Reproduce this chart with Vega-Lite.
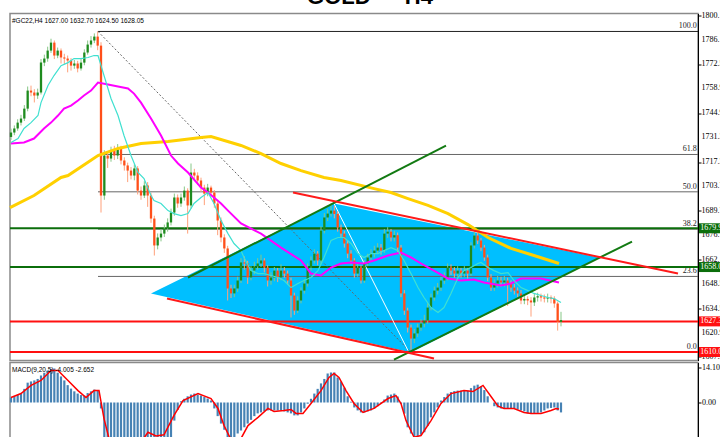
{
"$schema": "https://vega.github.io/schema/vega-lite/v6.json",
"padding": {"left": 3, "top": -14.5, "right": 0, "bottom": 0},
"background": "white",
"title": {"text": "GOLD — H4", "fontSize": 22, "font": "Liberation Sans", "fontWeight": "bold", "color": "#000", "anchor": "middle", "offset": 2},
"config": {"view": {"stroke": "#8a8a8a", "strokeWidth": 1.5}, "axis": {"grid": false, "labelOverlap": false, "labelBound": false}},
"spacing": 2,
"bounds": "flush",
"datasets": {
"bars": [
{"t":0,"o":1731.5,"h":1736.2,"l":1729.8,"c":1734.0,"m":2.0},
{"t":1,"o":1734.0,"h":1738.0,"l":1732.5,"c":1736.3,"m":2.5},
{"t":2,"o":1736.3,"h":1741.5,"l":1735.0,"c":1739.6,"m":3.0},
{"t":3,"o":1739.6,"h":1744.0,"l":1738.0,"c":1741.9,"m":3.6},
{"t":4,"o":1741.9,"h":1749.5,"l":1740.5,"c":1747.5,"m":5.5},
{"t":5,"o":1747.5,"h":1760.0,"l":1746.0,"c":1757.7,"m":8.0},
{"t":6,"o":1757.7,"h":1760.5,"l":1754.5,"c":1756.6,"m":8.5},
{"t":7,"o":1756.6,"h":1758.5,"l":1751.0,"c":1754.9,"m":8.9},
{"t":8,"o":1754.9,"h":1758.8,"l":1753.0,"c":1756.6,"m":9.5},
{"t":9,"o":1756.6,"h":1775.5,"l":1755.5,"c":1773.5,"m":10.9},
{"t":10,"o":1773.5,"h":1778.0,"l":1771.5,"c":1775.8,"m":12.0},
{"t":11,"o":1775.8,"h":1782.5,"l":1774.0,"c":1780.3,"m":12.9},
{"t":12,"o":1780.3,"h":1787.0,"l":1779.0,"c":1784.8,"m":13.5},
{"t":13,"o":1784.8,"h":1786.0,"l":1775.5,"c":1777.5,"m":13.7},
{"t":14,"o":1777.5,"h":1782.0,"l":1776.0,"c":1780.3,"m":12.0},
{"t":15,"o":1780.3,"h":1781.5,"l":1773.0,"c":1776.4,"m":10.5},
{"t":16,"o":1776.4,"h":1778.5,"l":1772.5,"c":1775.8,"m":8.9},
{"t":17,"o":1775.8,"h":1777.5,"l":1768.0,"c":1774.7,"m":7.0},
{"t":18,"o":1774.7,"h":1776.0,"l":1769.0,"c":1771.8,"m":5.6},
{"t":19,"o":1771.8,"h":1775.0,"l":1770.0,"c":1773.0,"m":4.5},
{"t":20,"o":1773.0,"h":1774.5,"l":1768.0,"c":1770.2,"m":3.6},
{"t":21,"o":1770.2,"h":1775.5,"l":1769.0,"c":1773.5,"m":3.0},
{"t":22,"o":1773.5,"h":1781.0,"l":1772.0,"c":1779.2,"m":2.8},
{"t":23,"o":1779.2,"h":1786.0,"l":1778.0,"c":1783.7,"m":3.8},
{"t":24,"o":1783.7,"h":1788.5,"l":1782.0,"c":1786.0,"m":4.5},
{"t":25,"o":1786.0,"h":1790.0,"l":1784.5,"c":1788.2,"m":5.2},
{"t":26,"o":1788.2,"h":1791.1,"l":1780.5,"c":1783.1,"m":5.0},
{"t":27,"o":1783.1,"h":1785.0,"l":1688.8,"c":1698.4,"m":-2.4},
{"t":28,"o":1698.4,"h":1724.0,"l":1696.0,"c":1721.0,"m":-15},
{"t":29,"o":1721.0,"h":1723.5,"l":1714.0,"c":1719.3,"m":-19},
{"t":30,"o":1719.3,"h":1726.0,"l":1717.5,"c":1723.8,"m":-21},
{"t":31,"o":1723.8,"h":1726.5,"l":1718.5,"c":1721.0,"m":-22},
{"t":32,"o":1721.0,"h":1727.5,"l":1719.0,"c":1725.0,"m":-23},
{"t":33,"o":1725.0,"h":1726.5,"l":1716.0,"c":1718.2,"m":-23},
{"t":34,"o":1718.2,"h":1720.0,"l":1712.5,"c":1715.4,"m":-22},
{"t":35,"o":1715.4,"h":1717.0,"l":1706.0,"c":1712.5,"m":-22},
{"t":36,"o":1712.5,"h":1714.5,"l":1707.5,"c":1709.7,"m":-21},
{"t":37,"o":1709.7,"h":1716.0,"l":1707.0,"c":1713.7,"m":-20},
{"t":38,"o":1713.7,"h":1715.0,"l":1699.0,"c":1701.2,"m":-20},
{"t":39,"o":1701.2,"h":1703.5,"l":1696.0,"c":1698.4,"m":-20},
{"t":40,"o":1698.4,"h":1706.5,"l":1697.0,"c":1704.1,"m":-19},
{"t":41,"o":1704.1,"h":1706.0,"l":1692.0,"c":1698.4,"m":-19},
{"t":42,"o":1698.4,"h":1700.0,"l":1683.0,"c":1685.4,"m":-20},
{"t":43,"o":1685.4,"h":1687.0,"l":1664.5,"c":1670.2,"m":-22},
{"t":44,"o":1670.2,"h":1677.0,"l":1668.0,"c":1674.7,"m":-22},
{"t":45,"o":1674.7,"h":1679.5,"l":1672.5,"c":1676.9,"m":-21},
{"t":46,"o":1676.9,"h":1682.0,"l":1675.0,"c":1679.8,"m":-20},
{"t":47,"o":1679.8,"h":1685.5,"l":1678.0,"c":1683.2,"m":-18},
{"t":48,"o":1683.2,"h":1691.0,"l":1681.5,"c":1688.8,"m":-15},
{"t":49,"o":1688.8,"h":1699.5,"l":1687.0,"c":1697.3,"m":-7.3},
{"t":50,"o":1697.3,"h":1699.0,"l":1691.5,"c":1693.9,"m":-3},
{"t":51,"o":1693.9,"h":1699.5,"l":1692.0,"c":1697.3,"m":0.5},
{"t":52,"o":1697.3,"h":1703.5,"l":1695.5,"c":1701.2,"m":1.5},
{"t":53,"o":1701.2,"h":1702.5,"l":1676.9,"c":1692.8,"m":2.5},
{"t":54,"o":1692.8,"h":1716.5,"l":1691.0,"c":1711.4,"m":3.2},
{"t":55,"o":1711.4,"h":1713.5,"l":1707.0,"c":1709.7,"m":3.6},
{"t":56,"o":1709.7,"h":1711.5,"l":1704.5,"c":1706.9,"m":3.2},
{"t":57,"o":1706.9,"h":1708.5,"l":1700.5,"c":1702.9,"m":2.8},
{"t":58,"o":1702.9,"h":1704.5,"l":1693.0,"c":1699.5,"m":2.2},
{"t":59,"o":1699.5,"h":1705.0,"l":1698.0,"c":1702.9,"m":1.6},
{"t":60,"o":1702.9,"h":1704.0,"l":1698.0,"c":1700.1,"m":0.8},
{"t":61,"o":1700.1,"h":1701.5,"l":1691.5,"c":1693.9,"m":-2.4},
{"t":62,"o":1693.9,"h":1695.0,"l":1676.0,"c":1684.3,"m":-5.5},
{"t":63,"o":1684.3,"h":1686.0,"l":1672.0,"c":1674.7,"m":-8.5},
{"t":64,"o":1674.7,"h":1676.5,"l":1666.0,"c":1668.5,"m":-11},
{"t":65,"o":1668.5,"h":1670.0,"l":1639.1,"c":1645.9,"m":-14.5},
{"t":66,"o":1645.9,"h":1648.0,"l":1640.5,"c":1643.1,"m":-16},
{"t":67,"o":1643.1,"h":1648.0,"l":1641.0,"c":1645.9,"m":-15},
{"t":68,"o":1645.9,"h":1652.5,"l":1644.0,"c":1650.4,"m":-12.5},
{"t":69,"o":1650.4,"h":1663.0,"l":1649.0,"c":1660.6,"m":-11.3},
{"t":70,"o":1660.6,"h":1664.0,"l":1656.5,"c":1660.0,"m":-10},
{"t":71,"o":1660.0,"h":1661.5,"l":1648.5,"c":1652.1,"m":-8.5},
{"t":72,"o":1652.1,"h":1658.5,"l":1650.5,"c":1656.0,"m":-7},
{"t":73,"o":1656.0,"h":1661.0,"l":1654.0,"c":1658.3,"m":-5.5},
{"t":74,"o":1658.3,"h":1663.0,"l":1656.5,"c":1660.0,"m":-4.4},
{"t":75,"o":1660.0,"h":1665.0,"l":1658.0,"c":1661.7,"m":-4},
{"t":76,"o":1661.7,"h":1663.0,"l":1655.0,"c":1657.7,"m":-3.5},
{"t":77,"o":1657.7,"h":1659.0,"l":1647.0,"c":1650.4,"m":-3.2},
{"t":78,"o":1650.4,"h":1655.0,"l":1648.0,"c":1652.1,"m":-3.2},
{"t":79,"o":1652.1,"h":1658.0,"l":1650.0,"c":1656.0,"m":-3.2},
{"t":80,"o":1656.0,"h":1657.5,"l":1649.5,"c":1652.1,"m":-3.2},
{"t":81,"o":1652.1,"h":1659.5,"l":1650.5,"c":1656.0,"m":-3.2},
{"t":82,"o":1656.0,"h":1658.0,"l":1652.0,"c":1654.3,"m":-3.6},
{"t":83,"o":1654.3,"h":1656.0,"l":1648.0,"c":1650.4,"m":-4},
{"t":84,"o":1650.4,"h":1652.0,"l":1629.5,"c":1641.9,"m":-4.4},
{"t":85,"o":1641.9,"h":1643.5,"l":1631.0,"c":1633.4,"m":-5.2},
{"t":86,"o":1633.4,"h":1641.5,"l":1632.0,"c":1639.1,"m":-5.2},
{"t":87,"o":1639.1,"h":1646.5,"l":1637.5,"c":1644.7,"m":-4},
{"t":88,"o":1644.7,"h":1651.0,"l":1643.0,"c":1648.7,"m":-2.4},
{"t":89,"o":1648.7,"h":1660.0,"l":1647.0,"c":1657.7,"m":-0.5},
{"t":90,"o":1657.7,"h":1664.0,"l":1656.0,"c":1661.7,"m":1.5},
{"t":91,"o":1661.7,"h":1668.0,"l":1660.0,"c":1665.6,"m":3.6},
{"t":92,"o":1665.6,"h":1667.0,"l":1659.0,"c":1661.7,"m":5.5},
{"t":93,"o":1661.7,"h":1681.0,"l":1660.0,"c":1678.6,"m":7.7},
{"t":94,"o":1678.6,"h":1688.5,"l":1677.0,"c":1686.0,"m":9.5},
{"t":95,"o":1686.0,"h":1691.0,"l":1684.0,"c":1688.2,"m":11.7},
{"t":96,"o":1688.2,"h":1693.9,"l":1686.5,"c":1689.9,"m":12.1},
{"t":97,"o":1689.9,"h":1692.5,"l":1685.5,"c":1688.0,"m":12.1},
{"t":98,"o":1688.0,"h":1689.5,"l":1678.0,"c":1680.3,"m":10.1},
{"t":99,"o":1680.3,"h":1682.0,"l":1674.5,"c":1676.9,"m":8.5},
{"t":100,"o":1676.9,"h":1678.5,"l":1669.0,"c":1671.3,"m":6.0},
{"t":101,"o":1671.3,"h":1673.0,"l":1663.0,"c":1665.6,"m":2.5},
{"t":102,"o":1665.6,"h":1667.5,"l":1659.5,"c":1661.7,"m":0.3},
{"t":103,"o":1661.7,"h":1663.0,"l":1652.0,"c":1654.3,"m":-2.0},
{"t":104,"o":1654.3,"h":1660.0,"l":1652.5,"c":1657.7,"m":-3.2},
{"t":105,"o":1657.7,"h":1659.0,"l":1648.7,"c":1650.4,"m":-4.0},
{"t":106,"o":1650.4,"h":1662.0,"l":1649.0,"c":1660.0,"m":-4.0},
{"t":107,"o":1660.0,"h":1665.5,"l":1658.5,"c":1663.4,"m":-3.6},
{"t":108,"o":1663.4,"h":1668.0,"l":1661.5,"c":1665.6,"m":-3.2},
{"t":109,"o":1665.6,"h":1670.0,"l":1663.5,"c":1667.3,"m":-2.4},
{"t":110,"o":1667.3,"h":1671.5,"l":1665.5,"c":1669.0,"m":-1.5},
{"t":111,"o":1669.0,"h":1671.0,"l":1665.0,"c":1667.3,"m":-0.4},
{"t":112,"o":1667.3,"h":1679.5,"l":1666.0,"c":1676.9,"m":1.2},
{"t":113,"o":1676.9,"h":1680.5,"l":1674.5,"c":1678.0,"m":2.8},
{"t":114,"o":1678.0,"h":1679.5,"l":1672.5,"c":1674.7,"m":3.2},
{"t":115,"o":1674.7,"h":1678.5,"l":1672.5,"c":1676.0,"m":3.6},
{"t":116,"o":1676.0,"h":1677.5,"l":1666.5,"c":1669.0,"m":2.4},
{"t":117,"o":1669.0,"h":1670.5,"l":1641.0,"c":1643.1,"m":-0.5},
{"t":118,"o":1643.1,"h":1645.0,"l":1631.0,"c":1633.4,"m":-4.5},
{"t":119,"o":1633.4,"h":1635.0,"l":1621.0,"c":1623.8,"m":-10},
{"t":120,"o":1623.8,"h":1625.5,"l":1609.7,"c":1617.6,"m":-12.5},
{"t":121,"o":1617.6,"h":1623.0,"l":1615.0,"c":1620.5,"m":-14},
{"t":122,"o":1620.5,"h":1626.0,"l":1618.5,"c":1623.8,"m":-13.5},
{"t":123,"o":1623.8,"h":1628.5,"l":1622.0,"c":1626.1,"m":-13},
{"t":124,"o":1626.1,"h":1631.0,"l":1624.0,"c":1627.8,"m":-12},
{"t":125,"o":1627.8,"h":1637.5,"l":1626.0,"c":1635.1,"m":-9.5},
{"t":126,"o":1635.1,"h":1643.0,"l":1633.5,"c":1640.8,"m":-6},
{"t":127,"o":1640.8,"h":1647.0,"l":1639.0,"c":1644.7,"m":-4},
{"t":128,"o":1644.7,"h":1649.0,"l":1642.5,"c":1646.4,"m":-2},
{"t":129,"o":1646.4,"h":1652.5,"l":1644.5,"c":1650.4,"m":0.8},
{"t":130,"o":1650.4,"h":1655.0,"l":1648.5,"c":1652.1,"m":2.2},
{"t":131,"o":1652.1,"h":1660.0,"l":1650.5,"c":1657.7,"m":3.6},
{"t":132,"o":1657.7,"h":1659.5,"l":1653.5,"c":1656.0,"m":4.2},
{"t":133,"o":1656.0,"h":1658.0,"l":1652.0,"c":1654.3,"m":4.6},
{"t":134,"o":1654.3,"h":1658.5,"l":1652.5,"c":1656.0,"m":4.8},
{"t":135,"o":1656.0,"h":1657.5,"l":1652.0,"c":1654.3,"m":4.8},
{"t":136,"o":1654.3,"h":1658.5,"l":1652.5,"c":1656.0,"m":4.8},
{"t":137,"o":1656.0,"h":1657.5,"l":1651.5,"c":1654.3,"m":4.8},
{"t":138,"o":1654.3,"h":1672.0,"l":1653.0,"c":1670.2,"m":5.8},
{"t":139,"o":1670.2,"h":1678.6,"l":1668.5,"c":1675.8,"m":6.8},
{"t":140,"o":1675.8,"h":1677.5,"l":1671.0,"c":1673.0,"m":7.2},
{"t":141,"o":1673.0,"h":1674.5,"l":1667.0,"c":1669.0,"m":6.5},
{"t":142,"o":1669.0,"h":1670.5,"l":1661.5,"c":1663.4,"m":5.0},
{"t":143,"o":1663.4,"h":1665.0,"l":1650.0,"c":1652.1,"m":2.5},
{"t":144,"o":1652.1,"h":1654.0,"l":1644.5,"c":1646.4,"m":0},
{"t":145,"o":1646.4,"h":1651.0,"l":1644.5,"c":1648.7,"m":-1.5},
{"t":146,"o":1648.7,"h":1653.0,"l":1646.5,"c":1650.4,"m":-2},
{"t":147,"o":1650.4,"h":1652.5,"l":1647.0,"c":1649.3,"m":-2.4},
{"t":148,"o":1649.3,"h":1653.0,"l":1647.0,"c":1650.4,"m":-2.4},
{"t":149,"o":1650.4,"h":1652.0,"l":1636.0,"c":1648.7,"m":-2.4},
{"t":150,"o":1648.7,"h":1650.5,"l":1644.0,"c":1646.4,"m":-2.4},
{"t":151,"o":1646.4,"h":1648.5,"l":1642.5,"c":1644.7,"m":-2.4},
{"t":152,"o":1644.7,"h":1646.5,"l":1641.0,"c":1643.1,"m":-2.8},
{"t":153,"o":1643.1,"h":1645.0,"l":1637.0,"c":1639.1,"m":-3.2},
{"t":154,"o":1639.1,"h":1642.0,"l":1637.0,"c":1640.0,"m":-3.6},
{"t":155,"o":1640.0,"h":1641.5,"l":1636.5,"c":1639.1,"m":-4.4},
{"t":156,"o":1639.1,"h":1641.0,"l":1630.0,"c":1638.0,"m":-4.4},
{"t":157,"o":1638.0,"h":1643.0,"l":1636.0,"c":1640.8,"m":-4.4},
{"t":158,"o":1640.8,"h":1643.5,"l":1638.5,"c":1641.5,"m":-4.2},
{"t":159,"o":1641.5,"h":1643.0,"l":1638.5,"c":1640.8,"m":-4.0},
{"t":160,"o":1640.8,"h":1642.5,"l":1638.0,"c":1640.2,"m":-3.2},
{"t":161,"o":1640.2,"h":1643.0,"l":1638.0,"c":1640.8,"m":-2.4},
{"t":162,"o":1640.8,"h":1642.0,"l":1637.5,"c":1640.2,"m":-2.2},
{"t":163,"o":1640.2,"h":1641.5,"l":1635.0,"c":1637.4,"m":-2.0},
{"t":164,"o":1637.4,"h":1638.5,"l":1622.1,"c":1627.0,"m":-3.2},
{"t":165,"o":1627.0,"h":1632.7,"l":1624.5,"c":1628.05,"m":-4.0}
],
"ma": [
{"s":"c","t":0,"v":1728.4},{"s":"c","t":2.1,"v":1730.6},{"s":"c","t":3.9,"v":1736.3},{"s":"c","t":6,"v":1739.6},{"s":"c","t":8.1,"v":1743.6},{"s":"c","t":9,"v":1750.9},{"s":"c","t":11.1,"v":1760.6},{"s":"c","t":12.9,"v":1766.2},{"s":"c","t":15,"v":1771.8},{"s":"c","t":17.1,"v":1773.5},{"s":"c","t":18.9,"v":1775.8},{"s":"c","t":21,"v":1775.8},{"s":"c","t":23.1,"v":1776.4},{"s":"c","t":24.9,"v":1777.5},{"s":"c","t":26.1,"v":1777.5},{"s":"c","t":27.9,"v":1766.2},{"s":"c","t":30,"v":1753.2},{"s":"c","t":32.1,"v":1743.6},{"s":"c","t":33.9,"v":1732.3},{"s":"c","t":36,"v":1721.0},{"s":"c","t":38.1,"v":1711.4},{"s":"c","t":39.9,"v":1708.0},{"s":"c","t":42,"v":1698.4},{"s":"c","t":42.9,"v":1695.6},{"s":"c","t":45,"v":1693.9},{"s":"c","t":47.1,"v":1689.9},{"s":"c","t":48.9,"v":1688.2},{"s":"c","t":51,"v":1687.1},{"s":"c","t":53.1,"v":1688.2},{"s":"c","t":54.9,"v":1693.9},{"s":"c","t":57,"v":1697.3},{"s":"c","t":59.1,"v":1700.1},{"s":"c","t":60.9,"v":1693.9},{"s":"c","t":63,"v":1684.3},{"s":"c","t":65.1,"v":1676.9},{"s":"c","t":66.9,"v":1671.3},{"s":"c","t":69,"v":1667.3},{"s":"c","t":69.9,"v":1663.4},{"s":"c","t":72,"v":1656.0},{"s":"c","t":74.1,"v":1654.3},{"s":"c","t":75.9,"v":1654.3},{"s":"c","t":78,"v":1653.2},{"s":"c","t":80.1,"v":1652.1},{"s":"c","t":81.9,"v":1650.4},{"s":"c","t":84,"v":1646.4},{"s":"c","t":86.1,"v":1648.7},{"s":"c","t":87.9,"v":1650.4},{"s":"c","t":90,"v":1652.1},{"s":"c","t":92.1,"v":1656.0},{"s":"c","t":93.9,"v":1663.4},{"s":"c","t":96,"v":1673.0},{"s":"c","t":98.1,"v":1674.7},{"s":"c","t":99.9,"v":1674.7},{"s":"c","t":102,"v":1671.3},{"s":"c","t":104.1,"v":1665.6},{"s":"c","t":105.9,"v":1663.4},{"s":"c","t":108,"v":1665.6},{"s":"c","t":110.1,"v":1665.6},{"s":"c","t":111.9,"v":1667.3},{"s":"c","t":114,"v":1669.0},{"s":"c","t":116.1,"v":1667.3},{"s":"c","t":117.9,"v":1661.7},{"s":"c","t":120,"v":1654.3},{"s":"c","t":122.1,"v":1646.4},{"s":"c","t":123.9,"v":1640.8},{"s":"c","t":126,"v":1635.1},{"s":"c","t":128.1,"v":1632.3},{"s":"c","t":129.9,"v":1635.1},{"s":"c","t":132,"v":1643.1},{"s":"c","t":134.1,"v":1652.1},{"s":"c","t":135.9,"v":1656.0},{"s":"c","t":138,"v":1657.7},{"s":"c","t":140.1,"v":1660.0},{"s":"c","t":141,"v":1660.6},{"s":"c","t":143.1,"v":1657.7},{"s":"c","t":144.9,"v":1656.0},{"s":"c","t":147,"v":1654.3},{"s":"c","t":149.1,"v":1654.9},{"s":"c","t":150.9,"v":1650.4},{"s":"c","t":153,"v":1646.4},{"s":"c","t":155.1,"v":1644.7},{"s":"c","t":156.9,"v":1643.1},{"s":"c","t":159,"v":1641.9},{"s":"c","t":161.1,"v":1640.8},{"s":"c","t":162.9,"v":1640.2},{"s":"c","t":165,"v":1638.0},
{"s":"m","t":0,"v":1727.8},{"s":"m","t":3.9,"v":1728.4},{"s":"m","t":6.9,"v":1730.6},{"s":"m","t":9.9,"v":1736.3},{"s":"m","t":12,"v":1739.6},{"s":"m","t":14.1,"v":1743.6},{"s":"m","t":15.9,"v":1747.5},{"s":"m","t":18,"v":1749.2},{"s":"m","t":20.1,"v":1752.1},{"s":"m","t":21.9,"v":1754.9},{"s":"m","t":24,"v":1757.7},{"s":"m","t":26.1,"v":1762.2},{"s":"m","t":29.1,"v":1761.1},{"s":"m","t":32.1,"v":1760.0},{"s":"m","t":35.1,"v":1758.9},{"s":"m","t":36.9,"v":1756.0},{"s":"m","t":39,"v":1750.9},{"s":"m","t":42,"v":1741.9},{"s":"m","t":45,"v":1732.3},{"s":"m","t":48,"v":1721.0},{"s":"m","t":50.1,"v":1716.5},{"s":"m","t":53.1,"v":1711.4},{"s":"m","t":57,"v":1702.9},{"s":"m","t":59.1,"v":1700.1},{"s":"m","t":60.9,"v":1697.3},{"s":"m","t":63,"v":1693.9},{"s":"m","t":65.1,"v":1689.9},{"s":"m","t":69,"v":1682.6},{"s":"m","t":75,"v":1676.9},{"s":"m","t":81,"v":1669.0},{"s":"m","t":87,"v":1661.7},{"s":"m","t":90,"v":1654.3},{"s":"m","t":93,"v":1653.2},{"s":"m","t":96,"v":1657.7},{"s":"m","t":99,"v":1660.0},{"s":"m","t":102,"v":1660.6},{"s":"m","t":105.9,"v":1660.0},{"s":"m","t":108.9,"v":1661.7},{"s":"m","t":113.1,"v":1664.5},{"s":"m","t":117,"v":1666.2},{"s":"m","t":120,"v":1663.4},{"s":"m","t":123,"v":1660.0},{"s":"m","t":126.9,"v":1656.0},{"s":"m","t":131.1,"v":1651.5},{"s":"m","t":135,"v":1650.4},{"s":"m","t":138.9,"v":1650.9},{"s":"m","t":141.9,"v":1649.3},{"s":"m","t":147,"v":1647.6},{"s":"m","t":150,"v":1648.7},{"s":"m","t":153,"v":1651.5},{"s":"m","t":159,"v":1651.5},{"s":"m","t":164.4,"v":1649.3},
{"s":"y","t":-0.3,"v":1691.6},{"s":"y","t":6.9,"v":1698.4},{"s":"y","t":15,"v":1708.6},{"s":"y","t":17.1,"v":1709.7},{"s":"y","t":26.1,"v":1721.0},{"s":"y","t":32.1,"v":1725.0},{"s":"y","t":39,"v":1727.8},{"s":"y","t":47.1,"v":1728.9},{"s":"y","t":57,"v":1731.2},{"s":"y","t":60,"v":1731.7},{"s":"y","t":69,"v":1726.7},{"s":"y","t":75,"v":1722.1},{"s":"y","t":81,"v":1716.5},{"s":"y","t":87,"v":1712.5},{"s":"y","t":93.9,"v":1708.6},{"s":"y","t":99,"v":1706.9},{"s":"y","t":108.9,"v":1702.3},{"s":"y","t":114,"v":1700.1},{"s":"y","t":119.1,"v":1696.7},{"s":"y","t":125.1,"v":1692.8},{"s":"y","t":131.1,"v":1688.2},{"s":"y","t":137.1,"v":1682.0},{"s":"y","t":143.1,"v":1674.7},{"s":"y","t":150,"v":1668.5},{"s":"y","t":156.9,"v":1664.5},{"s":"y","t":164.4,"v":1660.0}
],
"sig": [
{"t":0,"v":2.0},{"t":3,"v":3.6},{"t":6,"v":6.9},{"t":9,"v":8.9},{"t":12,"v":12.9},{"t":14.1,"v":12.9},{"t":17.1,"v":8.9},{"t":20.1,"v":4.8},{"t":22.5,"v":2.0},{"t":24.9,"v":4.8},{"t":26.4,"v":4.8},{"t":27.9,"v":-6.5},{"t":29.4,"v":-14.5},{"t":32.4,"v":-19},{"t":36.9,"v":-20},{"t":41.1,"v":-12},{"t":43.5,"v":-13.5},{"t":45.9,"v":-13},{"t":48.9,"v":-5.2},{"t":51.6,"v":0.8},{"t":56.1,"v":3.6},{"t":60,"v":1.6},{"t":62.1,"v":-2.4},{"t":63.9,"v":-9.3},{"t":66,"v":-15},{"t":69,"v":-14.5},{"t":71.1,"v":-9.3},{"t":74.1,"v":-6},{"t":77.1,"v":-2.4},{"t":78.9,"v":-3.6},{"t":81.9,"v":-3.2},{"t":84,"v":-2.8},{"t":85.5,"v":-4.4},{"t":87.6,"v":-4.4},{"t":90,"v":-0.4},{"t":93,"v":4.8},{"t":95.4,"v":10.1},{"t":96.9,"v":11.7},{"t":98.4,"v":10.1},{"t":100.5,"v":4.8},{"t":102.9,"v":-0.4},{"t":105.6,"v":-4},{"t":108.9,"v":-2.4},{"t":113.1,"v":1.6},{"t":115.5,"v":2.8},{"t":117,"v":-0.4},{"t":118.5,"v":-7.3},{"t":120.9,"v":-14},{"t":123,"v":-13.3},{"t":126,"v":-7.3},{"t":129,"v":-0.4},{"t":132,"v":3.6},{"t":135.9,"v":4.8},{"t":138.6,"v":4.4},{"t":141.6,"v":6.9},{"t":144,"v":2.4},{"t":146.1,"v":-1.5},{"t":147.9,"v":-2.4},{"t":150.9,"v":-2.4},{"t":153.9,"v":-4},{"t":156,"v":-4.4},{"t":159,"v":-4.4},{"t":162,"v":-3.2},{"t":163.5,"v":-2.4},{"t":164.4,"v":-2.65}
],
"ticks": [
{"v":1800.1},{"v":1786.1},{"v":1772.5},{"v":1758.9},{"v":1744.9},{"v":1731.3},{"v":1717.3},{"v":1703.7},{"v":1689.7},{"v":1676.1},{"v":1662.1},{"v":1648.5},{"v":1634.5},{"v":1620.9},{"v":1607.3}
],
"levels": [
{"p":1679.9,"k":"g","lab":"1679.90"},{"p":1658.0,"k":"g","lab":"1658.00"},{"p":1627.3,"k":"r","lab":"1627.30"},{"p":1610.0,"k":"r","lab":"1610.00"}
],
"fib": [
{"lvl":"100.0","p":1791.1,"t0":26.1},{"lvl":"61.8","p":1721.6,"t0":26.1},{"lvl":"50.0","p":1700.5,"t0":26.1},{"lvl":"38.2","p":1679.4,"t0":26.1},{"lvl":"23.6","p":1652.7,"t0":26.1},{"lvl":"0.0","p":1610.0,"t0":26.1}
],
"segs": [
{"k":"green","t1":53.1,"p1":1652.1,"t2":130.5,"p2":1726.6},
{"k":"green","t1":114.9,"p1":1605.7,"t2":186.3,"p2":1672.4},
{"k":"red","t1":84.6,"p1":1700.1,"t2":200.1,"p2":1654.3},
{"k":"red","t1":46.8,"p1":1640.2,"t2":126.9,"p2":1606.3},
{"k":"dot","t1":26.1,"p1":1791.1,"t2":120.0,"p2":1609.7},
{"k":"white","t1":96.9,"p1":1693.9,"t2":119.1,"p2":1610.8}
],
"poly": [
{"t":42.0,"hi":1643.1,"lo":1643.1},{"t":96.9,"hi":1693.9,"lo":1619.6},{"t":120.0,"hi":1685.0,"lo":1609.7},{"t":176.4,"hi":1663.4,"lo":1663.4}
]
},
"vconcat": [
{
"width": 688, "height": 347,
"layer": [
{"data": {"name": "poly"}, "mark": {"type": "area", "color": "#00bfff", "opacity": 1},
 "encoding": {"x": {"field": "t", "type": "quantitative", "scale": {"domain": [-0.3, 206.1], "nice": false, "zero": false, "padding": 0}, "axis": null},
  "y": {"field": "hi", "type": "quantitative", "scale": {"domain": [1605.2, 1801.25], "nice": false, "zero": false, "padding": 0},
   "axis": {"orient": "right", "title": null, "values": [1800.1,1786.1,1772.5,1758.9,1744.9,1731.3,1717.3,1703.7,1689.7,1676.1,1662.1,1648.5,1634.5,1620.9,1607.3], "labels": false, "tickSize": 3, "tickColor": "#000", "domainColor": "#000"}},
  "y2": {"field": "lo"}}},
{"data": {"name": "ticks"}, "mark": {"type": "text", "align": "left", "baseline": "middle", "dx": 3.5, "fontSize": 8, "font": "Liberation Serif", "color": "#000"},
 "encoding": {"x": {"datum": 206.1, "type": "quantitative", "scale": {"domain": [-0.3, 206.1], "nice": false, "zero": false, "padding": 0}, "axis": null},
  "y": {"field": "v", "type": "quantitative", "axis": {"title": null, "labels": false}},
  "text": {"field": "v", "type": "quantitative", "format": ".2f"}}},
{"data": {"name": "fib"}, "mark": {"type": "rule", "strokeWidth": 1},
 "encoding": {"x": {"field": "t0", "type": "quantitative", "scale": {"domain": [-0.3, 206.1], "nice": false, "zero": false, "padding": 0}, "axis": null},
  "x2": {"datum": 206.1},
  "y": {"field": "p", "type": "quantitative", "axis": {"title": null, "labels": false}},
  "color": {"condition": {"test": "datum.lvl == '100.0'", "value": "#222"}, "value": "#666"}}},
{"data": {"name": "fib"}, "mark": {"type": "text", "align": "right", "baseline": "bottom", "dy": -1, "fontSize": 8, "font": "Liberation Serif", "color": "#222"},
 "encoding": {"x": {"datum": 205.7, "type": "quantitative", "scale": {"domain": [-0.3, 206.1], "nice": false, "zero": false, "padding": 0}, "axis": null},
  "y": {"field": "p", "type": "quantitative", "axis": {"title": null, "labels": false}},
  "text": {"field": "lvl"}}},
{"data": {"name": "levels"}, "mark": {"type": "rule", "strokeWidth": 2},
 "encoding": {"y": {"field": "p", "type": "quantitative", "axis": {"title": null, "labels": false}},
  "color": {"field": "k", "type": "nominal", "scale": {"domain": ["g", "r"], "range": ["#0b6e0b", "#ff1010"]}, "legend": null}}},
{"data": {"name": "segs"}, "transform": [{"filter": "datum.k == 'dot'"}], "mark": {"type": "rule", "strokeWidth": 1, "strokeDash": [2, 2], "color": "#666"},
 "encoding": {"x": {"field": "t1", "type": "quantitative", "scale": {"domain": [-0.3, 206.1], "nice": false, "zero": false, "padding": 0}, "axis": null},
  "y": {"field": "p1", "type": "quantitative", "axis": {"title": null, "labels": false}}, "x2": {"field": "t2"}, "y2": {"field": "p2"}}},
{"data": {"name": "segs"}, "transform": [{"filter": "datum.k == 'white'"}], "mark": {"type": "rule", "strokeWidth": 1, "color": "#ffffff"},
 "encoding": {"x": {"field": "t1", "type": "quantitative", "scale": {"domain": [-0.3, 206.1], "nice": false, "zero": false, "padding": 0}, "axis": null},
  "y": {"field": "p1", "type": "quantitative", "axis": {"title": null, "labels": false}}, "x2": {"field": "t2"}, "y2": {"field": "p2"}}},
{"data": {"name": "bars"}, "mark": {"type": "rule", "strokeWidth": 1},
 "encoding": {"x": {"field": "t", "type": "quantitative", "scale": {"domain": [-0.3, 206.1], "nice": false, "zero": false, "padding": 0}, "axis": null},
  "y": {"field": "l", "type": "quantitative", "axis": {"title": null, "labels": false}}, "y2": {"field": "h"},
  "color": {"condition": {"test": "datum.c >= datum.o", "value": "#86c786"}, "value": "#ffa07a"}}},
{"data": {"name": "bars"}, "mark": {"type": "bar", "width": 2.3},
 "encoding": {"x": {"field": "t", "type": "quantitative", "scale": {"domain": [-0.3, 206.1], "nice": false, "zero": false, "padding": 0}, "axis": null},
  "y": {"field": "o", "type": "quantitative", "axis": {"title": null, "labels": false}}, "y2": {"field": "c"},
  "color": {"condition": {"test": "datum.c >= datum.o", "value": "#1e8b1e"}, "value": "#ff4f1a"}}},
{"data": {"name": "ma"}, "transform": [{"filter": "datum.s == 'y'"}], "mark": {"type": "line", "strokeWidth": 3, "color": "#ffd000"},
 "encoding": {"x": {"field": "t", "type": "quantitative", "scale": {"domain": [-0.3, 206.1], "nice": false, "zero": false, "padding": 0}, "axis": null},
  "y": {"field": "v", "type": "quantitative", "axis": {"title": null, "labels": false}}}},
{"data": {"name": "ma"}, "transform": [{"filter": "datum.s == 'm'"}], "mark": {"type": "line", "strokeWidth": 2, "color": "#ff00ff"},
 "encoding": {"x": {"field": "t", "type": "quantitative", "scale": {"domain": [-0.3, 206.1], "nice": false, "zero": false, "padding": 0}, "axis": null},
  "y": {"field": "v", "type": "quantitative", "axis": {"title": null, "labels": false}}}},
{"data": {"name": "ma"}, "transform": [{"filter": "datum.s == 'c'"}], "mark": {"type": "line", "strokeWidth": 1.2, "color": "#40e0d0"},
 "encoding": {"x": {"field": "t", "type": "quantitative", "scale": {"domain": [-0.3, 206.1], "nice": false, "zero": false, "padding": 0}, "axis": null},
  "y": {"field": "v", "type": "quantitative", "axis": {"title": null, "labels": false}}}},
{"data": {"name": "segs"}, "transform": [{"filter": "datum.k == 'green' || datum.k == 'red'"}], "mark": {"type": "rule", "strokeWidth": 2},
 "encoding": {"x": {"field": "t1", "type": "quantitative", "scale": {"domain": [-0.3, 206.1], "nice": false, "zero": false, "padding": 0}, "axis": null},
  "y": {"field": "p1", "type": "quantitative", "axis": {"title": null, "labels": false}}, "x2": {"field": "t2"}, "y2": {"field": "p2"},
  "color": {"condition": {"test": "datum.k == 'green'", "value": "#127a12"}, "value": "#ff1a1a"}}},
{"data": {"name": "levels"}, "mark": {"type": "rule", "strokeWidth": 10, "strokeCap": "butt"},
 "encoding": {"x": {"datum": 206.4, "type": "quantitative", "scale": {"domain": [-0.3, 206.1], "nice": false, "zero": false, "padding": 0}, "axis": null},
  "x2": {"datum": 216},
  "y": {"field": "p", "type": "quantitative", "axis": {"title": null, "labels": false}},
  "color": {"field": "k", "type": "nominal", "scale": {"domain": ["g", "r"], "range": ["#0b6e0b", "#ff1010"]}, "legend": null}}},
{"data": {"name": "levels"}, "mark": {"type": "text", "align": "left", "baseline": "middle", "fontSize": 8, "font": "Liberation Serif", "color": "#fff"},
 "encoding": {"x": {"datum": 206.8, "type": "quantitative", "scale": {"domain": [-0.3, 206.1], "nice": false, "zero": false, "padding": 0}, "axis": null},
  "y": {"field": "p", "type": "quantitative", "axis": {"title": null, "labels": false}},
  "text": {"field": "lab"}}},
{"data": {"values": [{"txt": "#GC22,H4  1627.00 1632.70 1624.50 1628.05"}]}, "mark": {"type": "text", "align": "left", "baseline": "middle", "fontSize": 6.5, "font": "'Liberation Sans Narrow', 'Liberation Sans'", "color": "#000"},
 "encoding": {"x": {"datum": 0.3, "type": "quantitative", "scale": {"domain": [-0.3, 206.1], "nice": false, "zero": false, "padding": 0}, "axis": null},
  "y": {"datum": 1797.2, "type": "quantitative", "axis": {"title": null, "labels": false}},
  "text": {"field": "txt"}}}
]
},
{
"width": 688, "height": 100,
"layer": [
{"data": {"name": "bars"}, "mark": {"type": "rule", "strokeWidth": 2.2, "color": "#4682b4"},
 "encoding": {"x": {"field": "t", "type": "quantitative", "scale": {"domain": [-0.3, 206.1], "nice": false, "zero": false, "padding": 0}, "axis": null},
  "y": {"field": "m", "type": "quantitative", "scale": {"domain": [-24.2, 16.13], "nice": false, "zero": false},
   "axis": {"orient": "right", "title": null, "values": [14.109, 0], "labelExpr": "datum.value == 0 ? '0.00' : '14.109'", "labelFont": "Liberation Serif", "labelFontSize": 8, "labelColor": "#000", "labelPadding": 0.5, "tickSize": 3, "tickColor": "#000", "domainColor": "#000", "labelOverlap": false}},
  "y2": {"datum": 0}}},
{"data": {"name": "sig"}, "mark": {"type": "line", "strokeWidth": 1.5, "color": "#ff0000"},
 "encoding": {"x": {"field": "t", "type": "quantitative", "scale": {"domain": [-0.3, 206.1], "nice": false, "zero": false, "padding": 0}, "axis": null},
  "y": {"field": "v", "type": "quantitative", "axis": {"title": null, "labelOverlap": false}}}},
{"data": {"values": [{"txt": "MACD(9,20,5) -4.005 -2.652"}]}, "mark": {"type": "text", "align": "left", "baseline": "middle", "fontSize": 6.5, "font": "'Liberation Sans Narrow', 'Liberation Sans'", "color": "#000"},
 "encoding": {"x": {"datum": 0.3, "type": "quantitative", "scale": {"domain": [-0.3, 206.1], "nice": false, "zero": false, "padding": 0}, "axis": null},
  "y": {"datum": 13.3, "type": "quantitative", "axis": {"title": null, "labelOverlap": false}},
  "text": {"field": "txt"}}}
]
}
]
}
